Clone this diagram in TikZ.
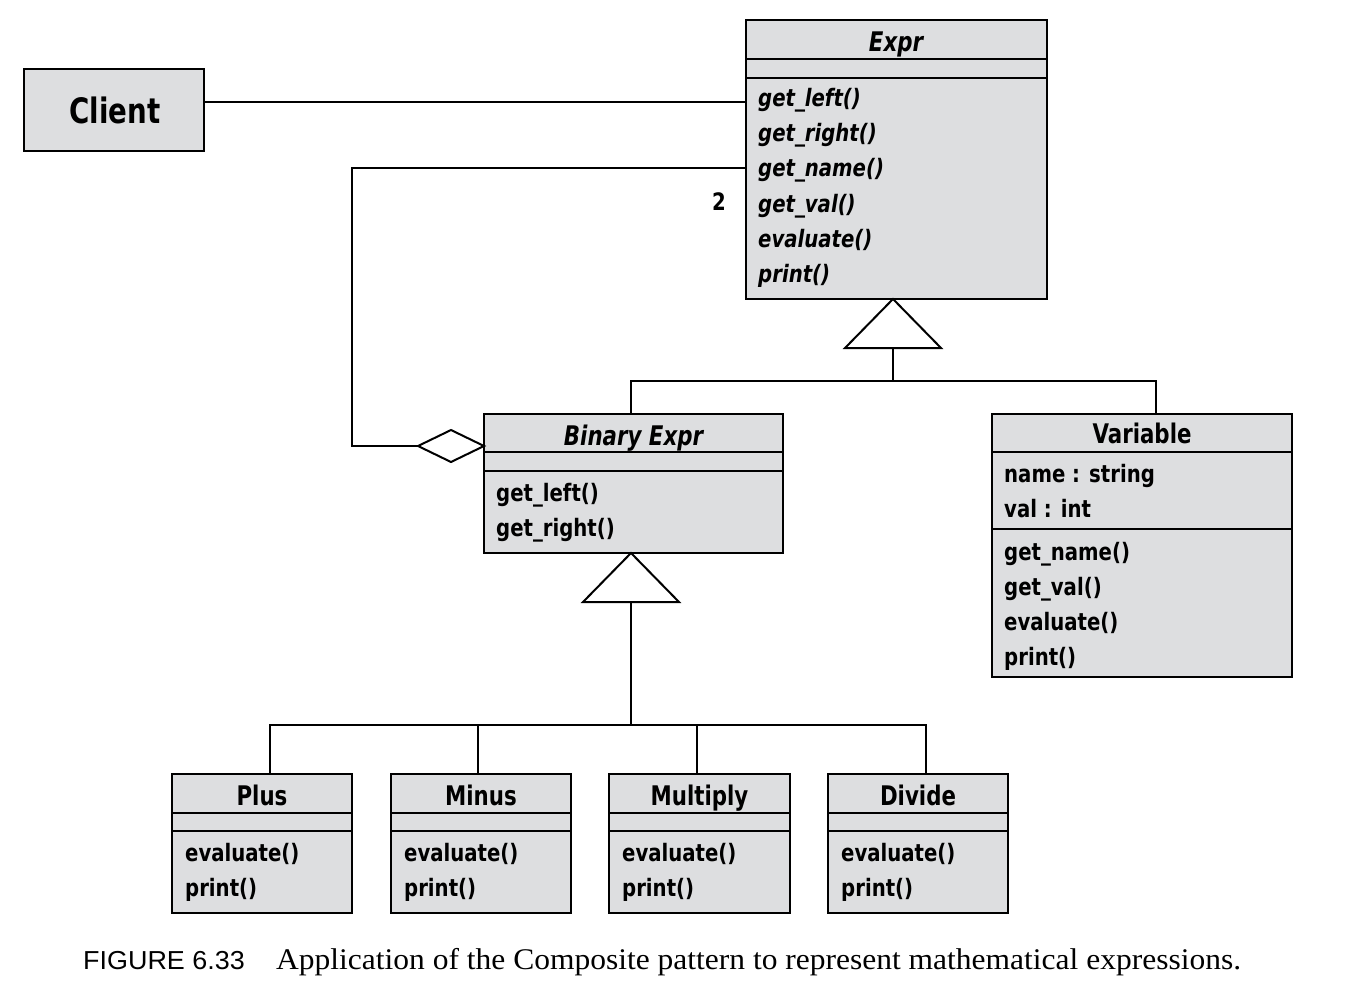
\documentclass[tikz,border=0pt]{standalone}
\usepackage{fontspec}
\usetikzlibrary{fit,calc}
\newfontfamily\umlfont[FakeStretch=0.82]{DejaVu Sans}
\newfontfamily\umlhead[FakeStretch=0.79]{DejaVu Sans}
\newfontfamily\capsans[FakeStretch=1.036]{Liberation Sans}
\newfontfamily\capserif[FakeStretch=1.05]{Liberation Serif}
\definecolor{umlgray}{RGB}{221,222,224}
\tikzset{
  box/.style={draw=black, fill=umlgray, line width=2pt, inner sep=0pt, outer sep=0pt},
  sepline/.style={line width=2pt},
  conn/.style={line width=2pt},
  headtext/.style={inner sep=0pt, anchor=base, font=\umlhead\bfseries\fontsize{27}{27}\selectfont},
  headitext/.style={inner sep=0pt, anchor=base, font=\umlhead\bfseries\itshape\fontsize{27}{27}\selectfont},
  memtext/.style={inner sep=0pt, anchor=base west, font=\umlfont\bfseries\fontsize{24}{24}\selectfont},
  memitext/.style={inner sep=0pt, anchor=base west, font=\umlfont\bfseries\itshape\fontsize{24}{24}\selectfont},
  hollow/.style={line width=2pt, fill=white, line join=miter}
}
\begin{document}
\begin{tikzpicture}[x=1pt,y=-1pt]
\useasboundingbox (0,0) rectangle (1350,991);
\fill[white] (0,0) rectangle (1350,991);

% ---------- Client ----------
\node[box, fit={(24,69) (204,151)}] (client) {};
\node[inner sep=0pt, anchor=base, font=\umlhead\bfseries\fontsize{35}{35}\selectfont] (clientname) at (115,123) {Client};

% ---------- Expr ----------
\node[box, fit={(746,20) (1047,299)}] (expr) {};
\draw[sepline] (expr.west |- 0,59) -- (expr.east |- 0,59);
\draw[sepline] (expr.west |- 0,78) -- (expr.east |- 0,78);
\node[headitext] (exprname) at (896,51) {Expr};
\node[memitext] (e1) at (758,106) {get\_left()};
\node[memitext] (e2) at (758,141) {get\_right()};
\node[memitext] (e3) at (758,176) {get\_name()};
\node[memitext] (e4) at (758,212) {get\_val()};
\node[memitext] (e5) at (758,247) {evaluate()};
\node[memitext] (e6) at (758,282) {print()};

% ---------- Binary Expr ----------
\node[box, fit={(484,414) (783,553)}] (binary) {};
\draw[sepline] (binary.west |- 0,452) -- (binary.east |- 0,452);
\draw[sepline] (binary.west |- 0,471) -- (binary.east |- 0,471);
\node[headitext] (binaryname) at (633.5,445) {Binary Expr};
\node[memtext] (b1) at (496,501) {get\_left()};
\node[memtext] (b2) at (496,536) {get\_right()};

% ---------- Variable ----------
\node[box, fit={(992,414) (1292,677)}] (variable) {};
\draw[sepline] (variable.west |- 0,452) -- (variable.east |- 0,452);
\draw[sepline] (variable.west |- 0,529) -- (variable.east |- 0,529);
\node[headtext] (variablename) at (1142,443) {Variable};
\node[memtext] (v1) at (1004,482) {name : string};
\node[memtext] (v2) at (1004,517) {val : int};
\node[memtext] (v3) at (1004,560) {get\_name()};
\node[memtext] (v4) at (1004,595) {get\_val()};
\node[memtext] (v5) at (1004,630) {evaluate()};
\node[memtext] (v6) at (1004,665) {print()};

% ---------- Leaf operators ----------
\foreach \nm/\lab/\xa/\xb in {plus/Plus/172/352, minus/Minus/391/571, multiply/Multiply/609/790, divide/Divide/828/1008}{
  \node[box, fit={(\xa,774) (\xb,913)}] (\nm) {};
  \draw[sepline] (\nm.west |- 0,813) -- (\nm.east |- 0,813);
  \draw[sepline] (\nm.west |- 0,831) -- (\nm.east |- 0,831);
  \node[headtext] (\nm name) at ($(\nm.north)+(0,31)$) {\lab};
  \node[memtext] (\nm ev) at ($(\nm.north west)+(13,87)$) {evaluate()};
  \node[memtext] (\nm pr) at ($(\nm.north west)+(13,122)$) {print()};
}

% ---------- Client association ----------
\draw[conn] (client.east |- 0,102) -- (expr.west |- 0,102);

% ---------- Aggregation (2) ----------
\coordinate (dright) at (binary.west |- 0,446);
\coordinate (dleft) at ($(dright)+(-66,0)$);
\coordinate (aggcorner) at (352,168);
\draw[conn] (expr.west |- aggcorner) -- (aggcorner) |- (dleft);
\draw[hollow] (dright) -- ++(-33,-16) -- (dleft) -- ++(33,16) -- cycle;
\node[inner sep=0pt, anchor=base, font=\umlfont\bfseries\fontsize{24}{24}\selectfont] (mult) at (719,210) {2};

% ---------- Generalization Expr ----------
\coordinate (apex1) at (expr.south -| 893,0);
\coordinate (base1) at (893,348);
\coordinate (hub1) at (893,381);
\draw[conn] (base1) -- (hub1);
\draw[conn] (binary.north -| 631,0) |- (hub1) -| (variable.north -| 1156,0);
\draw[hollow] (apex1) -- ++(-48,49) -- ++(96,0) -- cycle;

% ---------- Generalization Binary Expr ----------
\coordinate (apex2) at (binary.south -| 631,0);
\coordinate (base2) at (631,602);
\coordinate (hub2) at (631,725);
\draw[conn] (base2) -- (hub2);
\draw[conn] (plus.north -| 270,0) |- (hub2);
\draw[conn] (minus.north -| 478,0) -- (478,725);
\draw[conn] (multiply.north -| 697,0) -- (697,725);
\draw[conn] (divide.north -| 926,0) |- (hub2);
\draw[hollow] (apex2) -- ++(-48,49) -- ++(96,0) -- cycle;

% ---------- Caption ----------
\node[inner sep=0pt, anchor=base west, font=\capsans\fontsize{26}{26}\selectfont] (capnum) at (83,969) {FIGURE 6.33};
\node[inner sep=0pt, anchor=base west, font=\capserif\fontsize{30}{30}\selectfont] (captext) at (276,969) {Application of the Composite pattern to represent mathematical expressions.};
\end{tikzpicture}
\end{document}
